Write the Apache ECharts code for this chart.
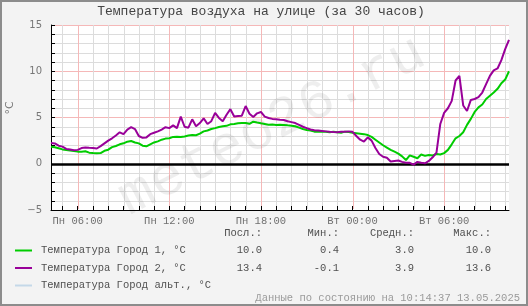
<!DOCTYPE html>
<html>
<head>
<meta charset="utf-8">
<script src="https://cdn.jsdelivr.net/npm/echarts@6/dist/echarts.min.js"></script>
<style>
html,body{margin:0;padding:0;background:#f3f3f3;}
#chart{width:528px;height:306px;}
</style>
</head>
<body>
<div id="chart"></div>
<script>
// ---- data ----
const chartTitle = 'Температура воздуха на улице (за 30 часов)';
const yAxisName = '°C';
const timeStartHour = 4.25;   // Mon 04:15 (hours since Mon 00:00)
const timeStepHour = 0.25;    // 15 min
const tickHours = [5,6,7,8,9,10,11,12,13,14,15,16,17,18,19,20,21,22,23,24,25,26,27,28,29,30,31,32,33,34];
const labelHours = [6,12,18,24,30];
const labelTexts = ['Пн 06:00','Пн 12:00','Пн 18:00','Вт 00:00','Вт 06:00'];
const majorHourStep = 6;

const city1Temps = [
 1.84,1.78,1.68,1.55,1.49,1.42,1.38,1.31,1.31,1.35,
 1.2,1.15,1.13,1.15,1.4,1.52,1.8,1.92,2.1,2.21,
 2.39,2.46,2.3,2.2,1.95,1.88,2.1,2.3,2.42,2.6,
 2.72,2.75,2.9,2.93,2.88,2.95,3.05,3.1,3.08,3.25,
 3.5,3.6,3.75,3.85,3.98,4.05,4.1,4.26,4.3,4.37,
 4.4,4.4,4.32,4.55,4.45,4.37,4.3,4.22,4.25,4.2,
 4.22,4.19,4.15,4.12,4.05,3.9,3.75,3.65,3.6,3.47,
 3.45,3.47,3.45,3.4,3.45,3.4,3.35,3.47,3.42,3.35,
 3.3,3.25,3.2,3.1,2.9,2.6,2.3,2.0,1.75,1.5,
 1.3,1.1,0.8,0.4,0.9,0.75,0.6,1.0,0.85,0.95,
 0.9,1.05,1.0,1.15,1.5,2.1,2.75,3.0,3.4,4.2,
 4.85,5.6,6.1,6.4,7.0,7.35,7.7,8.1,8.7,9.1,
 10.0
];
const city2Temps = [
 2.25,2.2,1.95,1.85,1.6,1.55,1.45,1.5,1.7,1.75,
 1.72,1.7,1.65,1.9,2.2,2.5,2.75,3.05,3.4,3.2,
 3.7,3.95,3.75,3.0,2.8,2.85,3.2,3.35,3.5,3.7,
 3.95,3.85,4.15,3.85,5.1,4.0,3.9,4.8,4.05,4.4,
 4.9,4.3,4.6,5.5,4.95,4.6,5.3,5.9,5.1,5.15,
 5.2,6.24,5.4,5.05,5.45,5.6,5.1,4.95,4.85,4.8,
 4.75,4.73,4.6,4.5,4.4,4.2,4.0,3.85,3.7,3.62,
 3.6,3.55,3.5,3.45,3.42,3.4,3.45,3.47,3.5,3.45,
 3.0,2.6,2.4,2.85,2.5,1.7,1.05,0.75,0.65,0.25,
 0.3,0.35,0.2,0.1,0.1,-0.1,0.2,0.1,0.05,0.3,
 0.7,1.2,4.3,5.5,6.0,6.8,9.0,9.5,6.3,5.7,
 6.9,7.0,7.2,7.7,8.6,9.5,10.1,10.3,11.2,12.4,
 13.4
];
const seriesNames = ['Температура Город 1, °C','Температура Город 2, °C','Температура Город альт., °C'];
const statHeaders = ['Посл.:','Мин.:','Средн.:','Макс.:'];
const city1Stats = ['10.0','0.4','3.0','10.0'];
const city2Stats = ['13.4','-0.1','3.9','13.6'];
const footerText = 'Данные по состоянию на 10:14:37 13.05.2025';

// ---- styles ----
const COLORS = ['#00cc00','#990099','#c4d8e8'];
const GRID_GREY = '#dcdcdc';
const GRID_RED = '#f5b8b8';
const MONO = '"Liberation Mono", "Courier New", monospace';
const TEXT = '#505050';

const toPairs = arr => arr.map((v,i) => [timeStartHour + i*timeStepHour, v]);
const xMax = timeStartHour + (city1Temps.length-1)*timeStepHour;
const xMin = xMax - 30;
const yMin = -5, yMax = 15;

const yColors = [];
for (let v=yMin; v<=yMax; v++) yColors.push((v>0 && v%5===0) ? GRID_RED : GRID_GREY);

const chart = echarts.init(document.getElementById('chart'), null, {renderer:'canvas'});

chart.setOption({
  animation:false,
  backgroundColor:'#f3f3f3',
  grid:{left:51, right:19, top:25, height:185, show:true, backgroundColor:'#ffffff', borderWidth:0},
  xAxis:{
    type:'value', min:xMin, max:xMax,
    axisLine:{show:true, onZero:false, lineStyle:{color:'#000', width:1}},
    axisTick:{show:true, inside:true, length:4, lineStyle:{color:'#000'}, customValues:tickHours},
    axisLabel:{customValues:labelHours, formatter:v=>labelTexts[labelHours.indexOf(Math.round(v))]||'',
      fontFamily:MONO, fontSize:10.5, color:'#707070', margin:6},
    splitLine:{show:false}
  },
  yAxis:{
    type:'value', min:yMin, max:yMax, interval:1,
    axisLine:{show:true, onZero:false, lineStyle:{color:'#000', width:1}},
    axisTick:{show:true, inside:true, length:4, lineStyle:{color:'#000'}},
    axisLabel:{formatter:v=> v%5===0 ? (v<0 ? '\u2212'+Math.abs(v) : String(v)) : '',
      fontFamily:'DejaVu Sans', fontSize:10, color:'#777', margin:9},
    splitLine:{show:true, lineStyle:{color:yColors, width:1}}
  },
  series:[
    {type:'line', z:3, silent:true, data:[[xMin, null]], symbol:'none', lineStyle:{width:0},
     markLine:{silent:true, symbol:['none','none'], label:{show:false}, animation:false,
       data:[{yAxis:0, lineStyle:{color:'#000', width:2.5, type:'solid'}}]}},
    {type:'line', name:seriesNames[0], z:4, data:toPairs(city1Temps), showSymbol:false, symbol:'none',
     lineStyle:{color:COLORS[0], width:2}, itemStyle:{color:COLORS[0]}},
    {type:'line', name:seriesNames[1], z:5, data:toPairs(city2Temps), showSymbol:false, symbol:'none',
     lineStyle:{color:COLORS[1], width:2}, itemStyle:{color:COLORS[1]}}
  ]
});

// vertical hour grid lines, positioned through the x axis scale
const yTop = chart.convertToPixel({yAxisIndex:0}, yMax);
const yBot = chart.convertToPixel({yAxisIndex:0}, yMin);
const gridLines = tickHours.map(h => {
  const x = Math.round(chart.convertToPixel({xAxisIndex:0}, h)) + 0.5;
  return {type:'line', silent:true, z:0, shape:{x1:x, y1:yTop, x2:x, y2:yBot-1},
    style:{stroke: h%majorHourStep===0 ? GRID_RED : GRID_GREY, lineWidth:1}};
});

const colRight = [262, 339, 414, 491];
const rowY = [250.5, 268, 285.5];
const graphics = gridLines.concat([
  {type:'rect', shape:{x:1,y:1,width:526,height:304}, style:{fill:'none', stroke:'#8c8c8c', lineWidth:2}, z:10},
  {type:'text', x:261, y:12, style:{text:chartTitle, font:'13px '+MONO, fill:'#444', align:'center', verticalAlign:'middle'}},
  {type:'text', x:10, y:108, rotation:Math.PI/2, style:{text:yAxisName, font:'11px "DejaVu Sans"', fill:'#777', align:'center', verticalAlign:'middle'}},
  {type:'text', x:272, y:126, rotation:27*Math.PI/180, z:1, silent:true,
   style:{text:'meteo26.ru', font:'56px '+MONO, fill:'rgba(0,0,0,0.065)', align:'center', verticalAlign:'middle'}},
  {type:'text', x:520, y:298, style:{text:footerText, font:'10.5px '+MONO, fill:'#9a9a9a', align:'right', verticalAlign:'middle'}}
]);
statHeaders.forEach((h,j)=>graphics.push({type:'text', x:colRight[j], y:233.5, style:{text:h, font:'10.5px '+MONO, fill:TEXT, align:'right', verticalAlign:'middle'}}));
seriesNames.forEach((n,i)=>{
  graphics.push({type:'line', shape:{x1:15,y1:rowY[i],x2:32,y2:rowY[i]}, style:{stroke:COLORS[i], lineWidth:2}});
  graphics.push({type:'text', x:41, y:rowY[i], style:{text:n, font:'10.5px '+MONO, fill:TEXT, align:'left', verticalAlign:'middle'}});
});
[city1Stats, city2Stats].forEach((st,i)=>st.forEach((s,j)=>graphics.push({type:'text', x:colRight[j], y:rowY[i], style:{text:s, font:'10.5px '+MONO, fill:TEXT, align:'right', verticalAlign:'middle'}})));

chart.setOption({graphic:{elements:graphics}});
</script>
</body>
</html>
